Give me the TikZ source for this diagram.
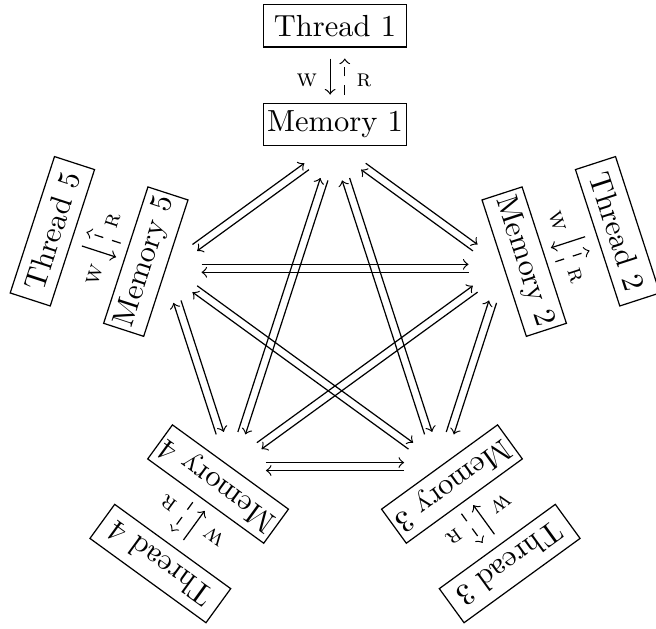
\documentclass[tikz,border=0pt]{standalone}
\usepackage{tikz}
\usetikzlibrary{calc}

\begin{document}
\begin{tikzpicture}[
  box/.style={draw, minimum width=47pt, minimum height=13.8pt, inner sep=1pt},
  link/.style={->, shorten >=11.5pt, shorten <=11.5pt,
    to path={($(\tikztostart)!1.3pt!90:(\tikztotarget)$) -- ($(\tikztotarget)!1.3pt!-90:(\tikztostart)$)}},
  wline/.style={->, shorten <=3.6pt, shorten >=2.6pt,
    to path={($(\tikztostart)!1.6pt!-90:(\tikztotarget)$) -- ($(\tikztotarget)!1.6pt!90:(\tikztostart)$)}},
  rline/.style={->, dashed, shorten <=2.6pt, shorten >=3.6pt,
    to path={($(\tikztostart)!3.2pt!-90:(\tikztotarget)$) -- ($(\tikztotarget)!3.2pt!90:(\tikztostart)$)}},
  lbl/.style={font=\footnotesize, inner sep=0pt}]
  \useasboundingbox (-109.8pt,-100pt) rectangle (105.2pt,105.9pt);

  % memories on the pentagon
  \node[box] (m1) at (90:65.2pt) {Memory 1};
  \node[box, rotate=-72] (m2) at (18:65.2pt) {Memory 2};
  \node[box, rotate=-144] (m3) at (-54:65.2pt) {Memory 3};
  \node[box, rotate=144] (m4) at (-126:65.2pt) {Memory 4};
  \node[box, rotate=72] (m5) at (162:65.2pt) {Memory 5};

  % threads outside
  \node[box] (t1) at (90:97.4pt) {Thread 1};
  \node[box, rotate=-72] (t2) at (18:97.4pt) {Thread 2};
  \node[box, rotate=-144] (t3) at (-54:97.4pt) {Thread 3};
  \node[box, rotate=144] (t4) at (-126:97.4pt) {Thread 4};
  \node[box, rotate=72] (t5) at (162:97.4pt) {Thread 5};

  % write / read
  \draw[wline] (t1.south) to (m1.north);
  \draw[rline] (m1.north) to (t1.south);
  \node[lbl] (w1) at ($(t1.south)!0.59!(m1.north)!9.2pt!-90:(m1.north)$) {\textsc{w}};
  \node[lbl] (r1) at ($(t1.south)!0.59!(m1.north)!9.5pt!90:(m1.north)$) {\textsc{r}};

  \draw[wline] (t2.south) to (m2.north);
  \draw[rline] (m2.north) to (t2.south);
  \node[lbl, rotate=-72] (w2) at ($(t2.south)!0.59!(m2.north)!9.2pt!-90:(m2.north)$) {\textsc{w}};
  \node[lbl, rotate=-72] (r2) at ($(t2.south)!0.59!(m2.north)!9.5pt!90:(m2.north)$) {\textsc{r}};

  \draw[wline] (t3.south) to (m3.north);
  \draw[rline] (m3.north) to (t3.south);
  \node[lbl, rotate=-144] (w3) at ($(t3.south)!0.59!(m3.north)!9.2pt!-90:(m3.north)$) {\textsc{w}};
  \node[lbl, rotate=-144] (r3) at ($(t3.south)!0.59!(m3.north)!9.5pt!90:(m3.north)$) {\textsc{r}};

  \draw[wline] (t4.south) to (m4.north);
  \draw[rline] (m4.north) to (t4.south);
  \node[lbl, rotate=144] (w4) at ($(t4.south)!0.59!(m4.north)!9.2pt!-90:(m4.north)$) {\textsc{w}};
  \node[lbl, rotate=144] (r4) at ($(t4.south)!0.59!(m4.north)!9.5pt!90:(m4.north)$) {\textsc{r}};

  \draw[wline] (t5.south) to (m5.north);
  \draw[rline] (m5.north) to (t5.south);
  \node[lbl, rotate=72] (w5) at ($(t5.south)!0.59!(m5.north)!9.2pt!-90:(m5.north)$) {\textsc{w}};
  \node[lbl, rotate=72] (r5) at ($(t5.south)!0.59!(m5.north)!9.5pt!90:(m5.north)$) {\textsc{r}};

  % memory to memory, both ways
  \draw[link] (m1.south) to (m2.south);
  \draw[link] (m2.south) to (m1.south);
  \draw[link] (m1.south) to (m3.south);
  \draw[link] (m3.south) to (m1.south);
  \draw[link] (m1.south) to (m4.south);
  \draw[link] (m4.south) to (m1.south);
  \draw[link] (m1.south) to (m5.south);
  \draw[link] (m5.south) to (m1.south);
  \draw[link] (m2.south) to (m3.south);
  \draw[link] (m3.south) to (m2.south);
  \draw[link] (m2.south) to (m4.south);
  \draw[link] (m4.south) to (m2.south);
  \draw[link] (m2.south) to (m5.south);
  \draw[link] (m5.south) to (m2.south);
  \draw[link] (m3.south) to (m4.south);
  \draw[link] (m4.south) to (m3.south);
  \draw[link] (m3.south) to (m5.south);
  \draw[link] (m5.south) to (m3.south);
  \draw[link] (m4.south) to (m5.south);
  \draw[link] (m5.south) to (m4.south);
\end{tikzpicture}
\end{document}
